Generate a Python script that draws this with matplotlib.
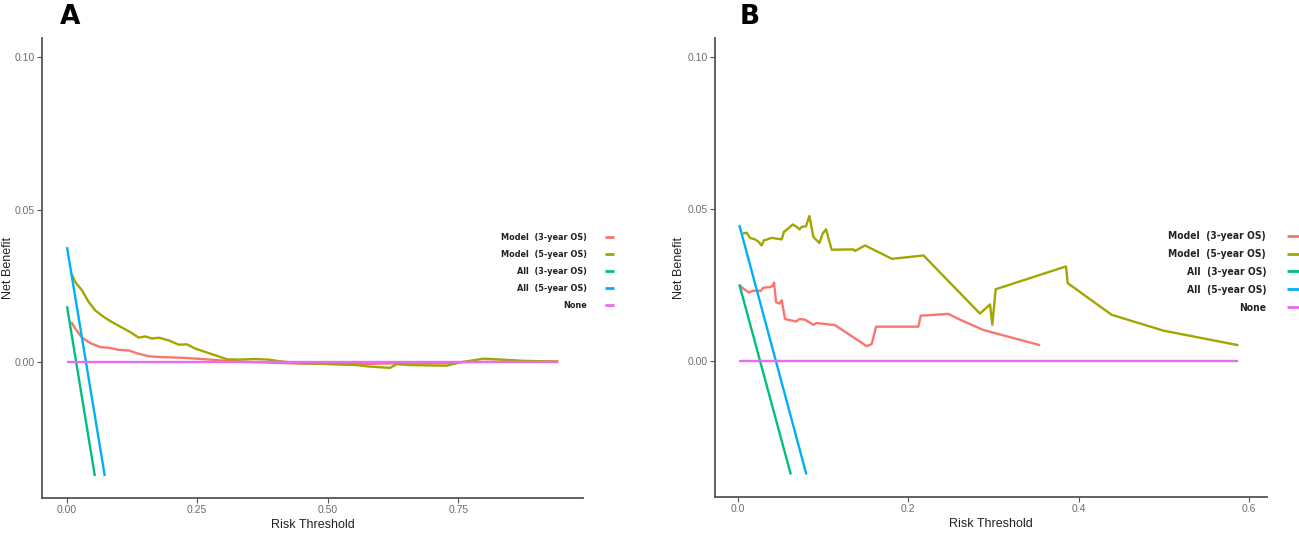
import matplotlib
matplotlib.use("Agg")
import matplotlib.pyplot as plt

# ---- panel A data ----
a_m3_x = [0.0089, 0.0166, 0.0294, 0.0453, 0.0645, 0.0804, 0.0996, 0.1188, 0.138, 0.1571,
          0.1826, 0.2209, 0.2593, 0.2976, 0.3359, 0.387, 0.4508, 0.5555, 0.6321, 0.734,
          0.76, 0.9418]
a_m3_y = [0.0131, 0.0109, 0.008, 0.0062, 0.0049, 0.0047, 0.004, 0.0038, 0.0027, 0.0019,
          0.0016, 0.0014, 0.001, 0.0005, 0.0001, -0.0002, -0.0005, -0.0007, -0.0004, -0.0004,
          0.0, 0.0002]
a_m5_x = [0.0089, 0.0166, 0.0294, 0.0421, 0.0549, 0.0709, 0.0868, 0.106, 0.122, 0.138,
          0.1507, 0.1635, 0.1763, 0.1954, 0.2146, 0.2306, 0.2465, 0.2657, 0.2848, 0.3072,
          0.3295, 0.3614, 0.387, 0.4061, 0.44, 0.5555, 0.581, 0.6194, 0.6321, 0.6577,
          0.7279, 0.7534, 0.7726, 0.7981, 0.8237, 0.8748, 0.9418]
a_m5_y = [0.029, 0.0262, 0.0235, 0.0197, 0.0169, 0.0148, 0.0131, 0.0113, 0.0098, 0.008,
          0.0084, 0.0077, 0.008, 0.0071, 0.0057, 0.0058, 0.0044, 0.0033, 0.0022, 0.0009,
          0.0008, 0.001, 0.0008, 0.0003, -0.0003, -0.001, -0.0015, -0.0019, -0.0007, -0.001,
          -0.0012, -0.0001, 0.0004, 0.0011, 0.0009, 0.0004, 0.0001]
a_all3_x = [0.0006, 0.054]
a_all3_y = [0.0183, -0.0374]
a_all5_x = [0.0006, 0.073]
a_all5_y = [0.0377, -0.0374]
a_none_x = [0.0006, 0.9418]
a_none_y = [0.0, 0.0]

# ---- panel B data ----
b_m3_x = [0.002, 0.0067, 0.0137, 0.0165, 0.0223, 0.027, 0.0302, 0.038, 0.0411, 0.0427,
          0.0451, 0.049, 0.0517, 0.0556, 0.0685, 0.0724, 0.0791, 0.0889, 0.0928, 0.1143,
          0.1514, 0.1573, 0.1624, 0.212, 0.2148, 0.2472, 0.2609, 0.2883, 0.3548]
b_m3_y = [0.0251, 0.0239, 0.0226, 0.0231, 0.0233, 0.0231, 0.0242, 0.0244, 0.0248, 0.0259,
          0.0194, 0.019, 0.0201, 0.0139, 0.0131, 0.0139, 0.0137, 0.012, 0.0126, 0.0119,
          0.005, 0.0057, 0.0114, 0.0114, 0.015, 0.0156, 0.0137, 0.0103, 0.0053]
b_m5_x = [0.006, 0.0105, 0.0145, 0.0203, 0.0242, 0.028, 0.0309, 0.0349, 0.0399, 0.0466,
          0.0517, 0.0544, 0.0595, 0.0646, 0.0693, 0.0724, 0.0751, 0.0802, 0.0842, 0.0889,
          0.0959, 0.0998, 0.1037, 0.1103, 0.1357, 0.1377, 0.1495, 0.181, 0.2181, 0.2843,
          0.2961, 0.2988, 0.3027, 0.3852, 0.3872, 0.4388, 0.4994, 0.5874]
b_m5_y = [0.042, 0.0423, 0.0406, 0.0401, 0.0394, 0.0381, 0.0398, 0.0401, 0.0406, 0.0403,
          0.0401, 0.0426, 0.0437, 0.045, 0.0442, 0.0434, 0.0442, 0.0444, 0.0478, 0.0409,
          0.0389, 0.042, 0.0434, 0.0367, 0.0368, 0.0363, 0.0381, 0.0337, 0.0348, 0.0157,
          0.0187, 0.012, 0.0237, 0.0312, 0.0257, 0.0153, 0.0101, 0.0053]
b_all3_x = [0.002, 0.0624]
b_all3_y = [0.0253, -0.0372]
b_all5_x = [0.002, 0.0807]
b_all5_y = [0.0448, -0.0372]
b_none_x = [0.002, 0.5874]
b_none_y = [0.0, 0.0]

labels = ["Model  (3-year OS)", "Model  (5-year OS)", "All  (3-year OS)",
          "All  (5-year OS)", "None"]
colors = ["#F8766D", "#A3A500", "#00BF7D", "#00B0F6", "#E76BF3"]

plt.rcParams["font.family"] = ["Liberation Sans", "DejaVu Sans"]

W, H = 1299, 536
fig = plt.figure(figsize=(W / 100, H / 100), dpi=100)


def px_axes(left, right, top, bottom):
    return fig.add_axes([left / W, 1 - bottom / H, (right - left) / W, (bottom - top) / H])


def style(ax, xticks, xlabels, xlim, ylab_x):
    ax.set_xlim(*xlim)
    ax.set_ylim(-0.0446, 0.1063)
    ax.set_xticks(xticks)
    ax.set_xticklabels(xlabels)
    ax.set_yticks([0.0, 0.05, 0.10])
    ax.set_yticklabels(["0.00", "0.05", "0.10"])
    for s in ["top", "right"]:
        ax.spines[s].set_visible(False)
    for s in ["left", "bottom"]:
        ax.spines[s].set_color("#555555")
        ax.spines[s].set_linewidth(1.3)
    ax.tick_params(colors="#555555", labelcolor="#6e6e6e", labelsize=7.5, length=3.5, width=0.8, pad=1.5)
    ax.set_xlabel("Risk Threshold", fontsize=9, color="#222222", labelpad=3)
    ax.set_ylabel("Net Benefit", fontsize=9, color="#222222")
    ax.yaxis.set_label_coords(ylab_x, 0.5)


def draw(ax, series, fs, hlen, hpad, lspace, anchor):
    for (x, y), lab, c in zip(series, labels, colors):
        ax.plot(x, y, color=c, lw=1.7, label=lab, solid_capstyle="butt")
    leg = ax.legend(loc="center right", bbox_to_anchor=anchor, bbox_transform=fig.transFigure,
                    frameon=False, markerfirst=False, handlelength=hlen, handletextpad=hpad,
                    borderpad=0, borderaxespad=0, labelspacing=lspace,
                    prop={"family": "DejaVu Sans", "stretch": "condensed", "weight": "bold", "size": fs})
    for t in leg.get_texts():
        t.set_color("#222222")
    for l in leg.get_lines():
        l.set_linewidth(2.0)


# panel A
axA = px_axes(42, 583, 38, 498)
draw(axA, [(a_m3_x, a_m3_y), (a_m5_x, a_m5_y), (a_all3_x, a_all3_y),
           (a_all5_x, a_all5_y), (a_none_x, a_none_y)],
     6.5, 1.0, 2.0, 0.9, (614 / W, 1 - 271.5 / H))
style(axA, [0, 0.25, 0.5, 0.75], ["0.00", "0.25", "0.50", "0.75"], (-0.0473, 0.989), -0.052)

# panel B
axB = px_axes(714.6, 1267, 38, 497)
draw(axB, [(b_m3_x, b_m3_y), (b_m5_x, b_m5_y), (b_all3_x, b_all3_y),
           (b_all5_x, b_all5_y), (b_none_x, b_none_y)],
     7.4, 1.2, 2.0, 0.76, (1299 / W, 1 - 272 / H))
style(axB, [0, 0.2, 0.4, 0.6], ["0.0", "0.2", "0.4", "0.6"], (-0.027, 0.621), -0.054)

fig.text(70 / W, 1 - 17 / H, "A", fontsize=19, fontweight="bold", ha="center", va="center",
         family=["DejaVu Sans"])
fig.text(750 / W, 1 - 17 / H, "B", fontsize=19, fontweight="bold", ha="center", va="center",
         family=["DejaVu Sans"])

fig.savefig("out.png", dpi=100)
